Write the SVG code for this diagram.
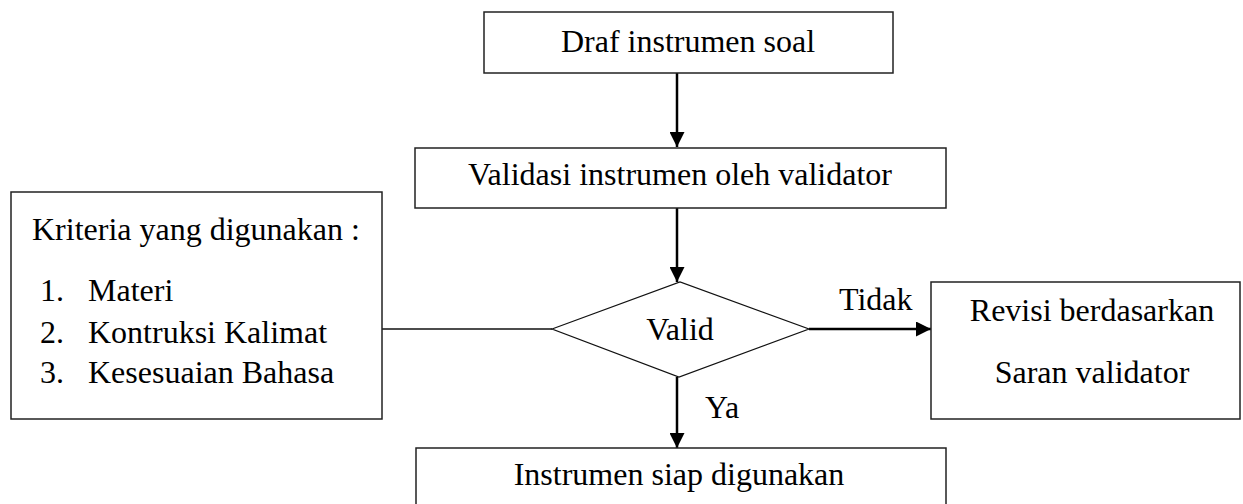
<svg xmlns="http://www.w3.org/2000/svg" width="1243" height="504" viewBox="0 0 1243 504">
<style>
.box{fill:#fff;stroke:#222;stroke-width:1.5}
.dia{fill:#fff;stroke:#111;stroke-width:1.2}
.t{font-family:"Liberation Serif","Times New Roman",serif;font-size:32px;fill:#000}
.m{text-anchor:middle}
.c{stroke:#000;stroke-width:2.5;fill:none}
.l{stroke:#111;stroke-width:1.5;fill:none}
</style>
<defs>
<marker id="ah" markerWidth="15" markerHeight="15" viewBox="0 0 15 15" refX="15" refY="7.5" orient="auto" markerUnits="userSpaceOnUse">
<path d="M0,0 L15,7.5 L0,15 Z" fill="#000"/>
</marker>
</defs>
<rect width="1243" height="504" fill="#fff"/>
<g id="connectors">
<line class="c" x1="677" y1="73" x2="677" y2="147" marker-end="url(#ah)"/>
<line class="c" x1="677" y1="208" x2="677" y2="282" marker-end="url(#ah)"/>
<line class="l" x1="382" y1="329" x2="552" y2="329"/>
<line class="c" x1="809" y1="329" x2="931" y2="329" marker-end="url(#ah)"/>
<line class="c" x1="677" y1="377" x2="677" y2="448" marker-end="url(#ah)"/>
<text class="t" x="839" y="310">Tidak</text>
<text class="t" x="705" y="418">Ya</text>
</g>
<g id="draf">
<rect class="box" x="484" y="12" width="409" height="61"/>
<text class="t m" x="688" y="52">Draf instrumen soal</text>
</g>
<g id="validasi">
<rect class="box" x="415" y="148" width="531" height="60"/>
<text class="t m" x="680" y="185">Validasi instrumen oleh validator</text>
</g>
<g id="kriteria">
<rect class="box" x="11" y="192" width="371" height="227"/>
<text class="t" x="32" y="240">Kriteria yang digunakan :</text>
<text class="t" x="40" y="301">1.</text>
<text class="t" x="88" y="301">Materi</text>
<text class="t" x="40" y="343">2.</text>
<text class="t" x="88" y="343">Kontruksi Kalimat</text>
<text class="t" x="40" y="383">3.</text>
<text class="t" x="88" y="383">Kesesuaian Bahasa</text>
</g>
<g id="valid">
<polygon class="dia" points="552,329 680,282 809,329 679,377"/>
<text class="t m" x="680" y="340">Valid</text>
</g>
<g id="revisi">
<rect class="box" x="931" y="282" width="309" height="137"/>
<text class="t m" x="1092" y="321">Revisi berdasarkan</text>
<text class="t m" x="1092" y="383">Saran validator</text>
</g>
<g id="siap">
<rect class="box" x="416" y="448" width="530" height="70"/>
<text class="t m" x="679" y="485">Instrumen siap digunakan</text>
</g>
</svg>
